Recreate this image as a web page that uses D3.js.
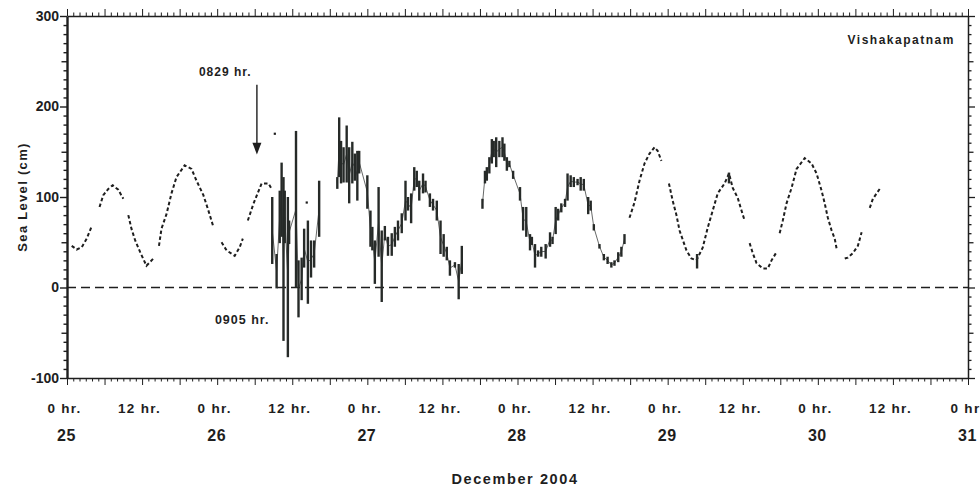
<!DOCTYPE html>
<html>
<head>
<meta charset="utf-8">
<script src="https://cdn.jsdelivr.net/npm/d3@7"></script>
<style>
	body { margin: 0; background: #fff; }
	svg { display: block; font-family: "Liberation Sans", Arial, sans-serif; }
	.axis path, .axis line { stroke: #1e1e1e; }
	.axis text { font-weight: bold; fill: #1e1e1e; }
	.lbl { font-weight: bold; fill: #1e1e1e; }
</style>
</head>
<body>
<div id="container"></div>
<script>
// hours since 25 Dec 0 hr, sea level in cm (null = gap in the record)
var tideHours = [
	0.75, 1.55, 2.35, 3.15, 4.0, null,
	5.2, 5.8, 6.6, 7.3, 8.2, 9.0, null,
	9.8, 10.3, 10.9, 11.7, 12.7, 13.8, null,
	14.7, 15.1, 15.9, 16.7, 17.5, 18.8, 19.9, 20.7, 21.8, 22.6, 23.4, null,
	24.7, 25.5, 26.8, 27.6, 28.1, null,
	28.9, 29.8, 31.1, 32.2, 32.7, null,
	89.9, 90.7, 91.5, 92.3, 93.1, 93.9, 94.4, 95.0, null,
	96.2, 96.8, 97.4, 97.9, 99.0, 99.8, 100.6, 101.6, 102.4, 103.2, 104.0, 104.3, 105.1, 105.8, 106.4, 107.2, 107.8, 108.3, null,
	109.1, 109.6, 110.2, 111.2, 112.0, 112.6, 113.4, null,
	113.9, 114.4, 115.0, 115.8, 116.6, 117.9, 119.0, 119.8, 120.6, 121.1, 121.6, 122.2, 122.7, 123.0, null,
	124.3, 124.8, 125.6, 126.4, 127.0, null,
	128.3, 128.8, 129.9
];
var tideLevels = [
	46, 42, 44.5, 54, 68.5, null,
	89, 102, 109, 113, 108, 98, null,
	80, 65, 52, 39, 24, 32, null,
	46, 65, 81, 104, 122, 135, 131, 118, 102, 85, 67, null,
	50, 41, 35, 44.5, 54, null,
	74, 92.5, 115, 115, 109, null,
	77, 94, 118, 137, 148, 155, 151, 140, null,
	115, 96, 80, 63, 41, 32, 30, 44, 66, 85, 104, 107, 115, 126, 110, 99, 85, 74, null,
	49, 38, 27, 21, 21, 30, 39, null,
	60, 74, 93, 110, 131, 143, 137, 126, 107, 93, 77, 63, 54, 43, null,
	32, 33, 38, 46, 61, null,
	88, 98, 109
];

// disturbed record: range of level within each sample
var burstHours = [
	32.8, 33.5, 34.0, 34.3, 34.6, 34.8, 35.3, 35.5, 36.6, 37.0, 37.5, 37.9, 38.5, 39.0, 39.5, 40.3,
	43.2, 43.5, 43.8, 44.2, 44.7, 45.1, 45.6, 46.0, 46.4, 46.7,
	48.0, 48.5, 48.8, 49.2, 49.8, 50.3, 50.8, 51.3, 51.9, 52.4, 52.9, 53.5, 54.1, 54.5, 55.0, 55.5,
	55.9, 56.3, 56.9, 57.3, 58.0, 58.5, 59.1, 59.7, 60.2, 60.7, 61.2, 62.0, 62.6, 63.1,
	66.4, 66.8, 67.1, 67.5, 67.9, 68.2, 68.6, 69.1, 69.6, 69.9, 70.3, 70.7, 71.3, 72.4, 72.9, 73.4,
	74.0, 74.3, 74.8, 75.3, 75.8, 76.5, 77.2, 77.6, 78.1, 78.5, 79.0, 79.6, 80.0, 80.5, 81.0, 81.6,
	82.1, 82.6, 83.3, 83.7, 84.2, 85.1, 85.8, 86.4, 87.0, 87.5, 88.1, 88.6, 89.1,
	100.7, 105.8
];
var burstLow = [
	26, -1, 49, 56, -59, 49, -77, 48, 0, -33, -14, 22, -18, 11, 22, 56,
	109, 122, 115, 116, 116, 93, 115, 118, 96, 126,
	87, 45, 41, 4, 34, -16, 52, 35, 35, 45, 52, 60, 74, 85, 71, 107,
	111, 96, 104, 105, 89, 85, 74, 37, 34, 30, 13, 22, -13, 15,
	87, 115, 118, 126, 137, 144, 133, 144, 144, 140, 129, 133, 120, 96, 63, 56,
	41, 47, 22, 34, 34, 32, 45, 48, 59, 74, 83, 89, 96, 111, 111, 113,
	107, 107, 81, 85, 63, 43, 30, 26, 22, 24, 28, 34, 48,
	21, 115
];
var burstHigh = [
	100, 37, 107, 138, 122, 107, 100, 74, 173, 30, 33, 65, 74, 52, 52, 118,
	122, 188, 162, 155, 179, 155, 161, 148, 151, 151,
	124, 85, 67, 52, 111, 63, 68, 56, 60, 67, 74, 82, 118, 100, 104, 133,
	129, 118, 126, 118, 104, 98, 96, 74, 59, 45, 30, 28, 26, 46,
	98, 129, 133, 144, 164, 162, 166, 162, 166, 159, 144, 140, 129, 111, 89, 89,
	59, 56, 48, 41, 45, 48, 61, 56, 89, 87, 93, 98, 126, 124, 122, 120,
	122, 120, 100, 96, 70, 48, 37, 34, 28, 30, 39, 45, 59,
	37, 127
];
var dotHours = [33.2, 38.3];
var dotLevels = [170, 94];

var levelLabels = [-100, 0, 100, 200, 300];
var hourLabelHours = [0, 12, 24, 36, 48, 60, 72, 84, 96, 108, 120, 132, 144];
var hourLabels = ["0 hr.", "12 hr.", "0 hr.", "12 hr.", "0 hr.", "12 hr.", "0 hr.", "12 hr.", "0 hr.", "12 hr.", "0 hr.", "12 hr.", "0 hr"];
var dayHours = [0, 24, 48, 72, 96, 120, 144];
var dayLabels = ["25", "26", "27", "28", "29", "30", "31"];

var x = d3.scaleLinear().domain([0, 144]).range([67, 968]);
var y = d3.scaleLinear().domain([-100, 300]).range([378, 16]);

var svg = d3.select("#container").append("svg")
	.attr("width", 980)
	.attr("height", 487);

var hourTicks = d3.range(0, 145);
var levelTicks = d3.range(-100, 301, 10);
function hourLen(h) { return h % 6 === 0 ? 7 : 3.5; }
function levelLen(v) { return v % 100 === 0 ? 7 : (v % 50 === 0 ? 5.5 : 3.5); }

// frame axes
var topAxis = svg.append("g").attr("class", "axis")
	.attr("transform", "translate(0," + y(300) + ")")
	.call(d3.axisTop(x).tickValues(hourTicks).tickSizeOuter(0).tickFormat(""));
topAxis.selectAll(".tick line").attr("y2", d => -hourLen(d));

var bottomAxis = svg.append("g").attr("class", "axis")
	.attr("transform", "translate(0," + y(-100) + ")")
	.call(d3.axisBottom(x).tickValues(hourTicks).tickSizeOuter(0).tickFormat(""));
bottomAxis.selectAll(".tick line").attr("y2", d => hourLen(d));

var leftAxis = svg.append("g").attr("class", "axis")
	.attr("transform", "translate(" + x(0) + ",0)")
	.call(d3.axisLeft(y).tickValues(levelTicks).tickSizeOuter(0)
		.tickFormat(d => levelLabels.indexOf(d) >= 0 ? d : ""));
leftAxis.selectAll(".tick line").attr("x2", d => -levelLen(d)).attr("stroke-width", 1.4);
leftAxis.select(".domain").attr("stroke-width", 2.4);
leftAxis.selectAll(".tick text").attr("x", -8).style("font-size", "14px");

var rightAxis = svg.append("g").attr("class", "axis")
	.attr("transform", "translate(" + x(144) + ",0)")
	.call(d3.axisRight(y).tickValues(levelTicks).tickSizeOuter(0).tickFormat(""));
rightAxis.selectAll(".tick line").attr("x2", d => levelLen(d)).attr("stroke-width", 1.3);
rightAxis.select(".domain").attr("stroke-width", 1.5);

topAxis.select(".domain").attr("stroke-width", 1.5);
bottomAxis.select(".domain").attr("stroke-width", 1.5);

// hour / day labels
var hourRow = svg.append("g").attr("class", "axis")
	.attr("transform", "translate(0,413)")
	.call(d3.axisBottom(x).tickValues(hourLabelHours).tickSize(0).tickFormat((d, i) => hourLabels[i]));
hourRow.select(".domain").remove();
hourRow.selectAll("text").attr("y", 0).attr("dy", 0).attr("dx", -3)
	.style("font-size", "13.5px").style("letter-spacing", "1.3px");

var dayRow = svg.append("g").attr("class", "axis")
	.attr("transform", "translate(0,441)")
	.call(d3.axisBottom(x).tickValues(dayHours).tickSize(0).tickFormat((d, i) => dayLabels[i]));
dayRow.select(".domain").remove();
dayRow.selectAll("text").attr("y", 0).attr("dy", 0).attr("dx", -1)
	.style("font-size", "16px").style("letter-spacing", "0.5px");

svg.append("text").attr("class", "lbl")
	.attr("x", 515).attr("y", 484)
	.attr("text-anchor", "middle")
	.style("font-size", "14.5px").style("letter-spacing", "1.6px")
	.text("December 2004");

svg.append("text").attr("class", "lbl")
	.attr("transform", "translate(27,197) rotate(-90)")
	.attr("text-anchor", "middle")
	.style("font-size", "13px").style("letter-spacing", "1.3px")
	.text("Sea Level (cm)");

// zero reference
svg.append("line")
	.attr("x1", x(0)).attr("x2", x(144))
	.attr("y1", y(0)).attr("y2", y(0))
	.attr("stroke", "#1e1e1e")
	.attr("stroke-width", 1.6)
	.attr("stroke-dasharray", "9,5");

// tide record
var tide = tideHours.map((h, i) => [h, tideLevels[i]]);
var line = d3.line()
	.defined(d => d[0] != null && d[1] != null)
	.x(d => x(d[0]))
	.y(d => y(d[1]));

svg.append("path")
	.datum(tide)
	.attr("fill", "none")
	.attr("stroke", "#1e1e1e")
	.attr("stroke-width", 2)
	.attr("stroke-dasharray", "3.5,2.5")
	.attr("d", line);

// thin trace joining the disturbed samples, broken where samples are far apart
var trace = [];
burstHours.forEach((h, i) => {
	if (i > 0 && h - burstHours[i - 1] > 1.5) trace.push([null, null]);
	trace.push([h, (burstLow[i] + burstHigh[i]) / 2]);
});
svg.append("path")
	.datum(trace)
	.attr("fill", "none")
	.attr("stroke", "#262a28")
	.attr("stroke-width", 1)
	.attr("opacity", 0.7)
	.attr("d", line);

svg.append("g").selectAll("line")
	.data(burstHours)
	.join("line")
	.attr("x1", d => x(d)).attr("x2", d => x(d))
	.attr("y1", (d, i) => y(burstLow[i]))
	.attr("y2", (d, i) => y(burstHigh[i]))
	.attr("stroke", "#262a28")
	.attr("stroke-width", 2.4);

svg.append("g").selectAll("rect")
	.data(dotHours)
	.join("rect")
	.attr("x", d => x(d) - 1).attr("y", (d, i) => y(dotLevels[i]) - 1)
	.attr("width", 2.2).attr("height", 2.2)
	.attr("fill", "#1e1e1e");

// annotations
svg.append("text").attr("class", "lbl")
	.attr("x", x(25.3)).attr("y", y(234))
	.attr("text-anchor", "middle")
	.style("font-size", "12px").style("letter-spacing", "1px")
	.text("0829 hr.");

svg.append("line")
	.attr("x1", x(30.35)).attr("x2", x(30.35))
	.attr("y1", y(224)).attr("y2", y(152))
	.attr("stroke", "#1e1e1e").attr("stroke-width", 1.4);
svg.append("path")
	.attr("d", "M" + (x(30.35) - 4.5) + "," + y(160) + "L" + x(30.35) + "," + y(147) + "L" + (x(30.35) + 4.5) + "," + y(160) + "Z")
	.attr("fill", "#1e1e1e");

svg.append("text").attr("class", "lbl")
	.attr("x", x(28)).attr("y", y(-40))
	.attr("text-anchor", "middle")
	.style("font-size", "12.5px").style("letter-spacing", "1px")
	.text("0905 hr.");

svg.append("text").attr("class", "lbl")
	.attr("x", x(141.9)).attr("y", y(269))
	.attr("text-anchor", "end")
	.style("font-size", "12px").style("letter-spacing", "1.5px")
	.text("Vishakapatnam");
</script>
</body>
</html>
